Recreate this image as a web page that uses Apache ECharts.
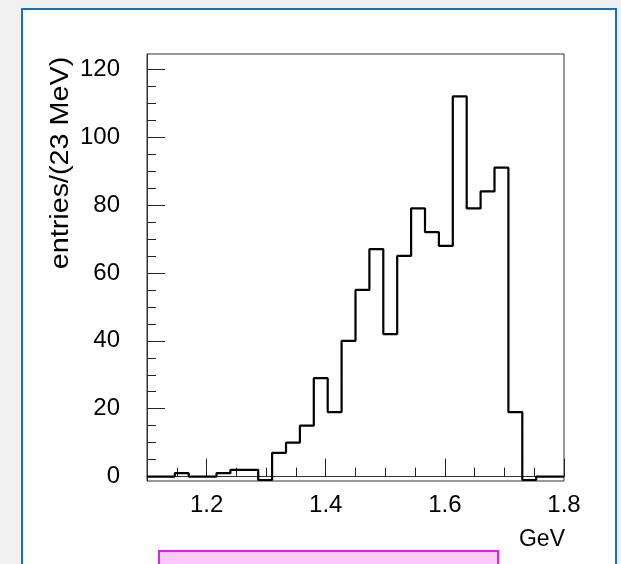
<!DOCTYPE html>
<html>
<head>
<meta charset="utf-8">
<script src="https://cdn.jsdelivr.net/npm/echarts@6/dist/echarts.min.js"></script>
<style>
  html, body { margin: 0; padding: 0; width: 621px; height: 564px; overflow: hidden; background: #f0f0f0; }
  #panel { position: absolute; left: 21px; top: 8px; width: 592px; height: 600px; background: #fff; border: 2px solid #1a6fc2; }
  #legendBox { position: absolute; left: 158px; top: 550px; width: 337px; height: 40px; background: #fcc9fc; border: 2px solid #de24de; }
  #chart { position: absolute; left: 0; top: 0; width: 621px; height: 564px; }
</style>
</head>
<body>
<div id="panel"></div>
<div id="legendBox"></div>
<div id="chart"></div>
<script>
// Histogram binning: 30 bins of ~23 MeV between 1.1 and 1.8 GeV
const binLow = 1.1;
const binHigh = 1.8;
const nBins = 30;

// Entries per bin (background subtracted, so a few bins dip below zero)
const counts = [0, 0, 1, 0, 0, 1, 2, 2, -1, 7,
                10, 15, 29, 19, 40, 55, 67, 42, 65, 79,
                72, 68, 112, 79, 84, 91, 19, -1, 0, 0];

// Axis ticks
const yMajorTicks = [0, 20, 40, 60, 80, 100, 120];
const yMinorTicks = [5, 10, 15, 25, 30, 35, 45, 50, 55, 65, 70, 75, 85, 90, 95, 105, 110, 115];
const xMajorTicks = [1.2, 1.4, 1.6, 1.8];
const xMinorTicks = [1.15, 1.25, 1.3, 1.35, 1.45, 1.5, 1.55, 1.65, 1.7, 1.75];

const yTitle = 'entries/(23 MeV)';
const xTitle = 'GeV';

const yMin = -1.3, yMax = 124.5;

// Step outline: one point per lower bin edge, plus the upper edge of the last bin
const binWidth = (binHigh - binLow) / nBins;
const outline = counts.map((c, i) => [binLow + i * binWidth, c]);
outline.push([binHigh, counts[counts.length - 1]]);

const font = '"Liberation Sans", Arial, Helvetica, sans-serif';
const tickStyle = { color: '#222', width: 1 };

const chart = echarts.init(document.getElementById('chart'), null, { renderer: 'canvas' });
chart.setOption({
  animation: false,
  backgroundColor: 'transparent',
  grid: {
    left: 147, top: 54, width: 417, height: 427,
    show: true, borderColor: '#333', borderWidth: 1, backgroundColor: 'transparent'
  },
  xAxis: [
    {
      type: 'value', min: binLow, max: binHigh, position: 'bottom',
      axisLine: { show: true, lineStyle: { color: '#333', width: 1 } },
      axisTick: { show: true, inside: true, length: 18, customValues: xMajorTicks, lineStyle: tickStyle },
      axisLabel: {
        customValues: xMajorTicks, margin: 12, color: '#000',
        fontFamily: font, fontSize: 24,
        formatter: v => v.toFixed(1)
      },
      splitLine: { show: false }
    },
    {
      type: 'value', min: binLow, max: binHigh, position: 'bottom',
      axisLine: { show: false },
      axisTick: { show: true, inside: true, length: 9, customValues: xMinorTicks, lineStyle: tickStyle },
      axisLabel: { show: false },
      splitLine: { show: false }
    }
  ],
  yAxis: [
    {
      type: 'value', min: yMin, max: yMax, position: 'left',
      axisLine: { show: true, lineStyle: { color: '#333', width: 1 } },
      axisTick: { show: true, inside: true, length: 18, customValues: yMajorTicks, lineStyle: tickStyle },
      axisLabel: {
        customValues: yMajorTicks, margin: 27, color: '#000',
        fontFamily: font, fontSize: 24
      },
      splitLine: { show: false }
    },
    {
      type: 'value', min: yMin, max: yMax, position: 'left',
      axisLine: { show: false },
      axisTick: { show: true, inside: true, length: 9, customValues: yMinorTicks, lineStyle: tickStyle },
      axisLabel: { show: false },
      splitLine: { show: false }
    }
  ],
  graphic: [
    {
      // vertical axis title, stretched a little along its baseline
      type: 'text', x: 61, y: 163, rotation: Math.PI / 2, scaleX: 1.15,
      style: {
        text: yTitle, fill: '#000', font: '25px ' + font,
        textAlign: 'center', textVerticalAlign: 'middle'
      }
    },
    {
      type: 'text', x: 565, y: 540,
      style: {
        text: xTitle, fill: '#000', font: '23px ' + font,
        textAlign: 'right', textVerticalAlign: 'middle'
      }
    }
  ],
  series: [
    {
      type: 'line', xAxisIndex: 0, yAxisIndex: 0,
      step: 'end', data: outline,
      showSymbol: false, symbol: 'none',
      lineStyle: { color: '#000', width: 2.2 },
      z: 5
    }
  ]
});
</script>
</body>
</html>
